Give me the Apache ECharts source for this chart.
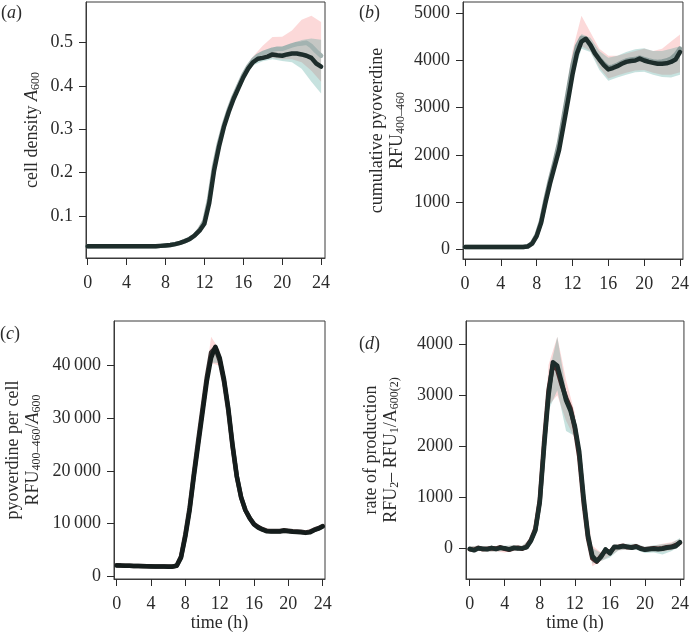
<!DOCTYPE html>
<html>
<head>
<meta charset="utf-8">
<script src="https://cdn.jsdelivr.net/npm/echarts@6/dist/echarts.min.js"></script>
<style>
  html, body { margin: 0; padding: 0; background: #fff; }
  #main { width: 692px; height: 634px; }
</style>
</head>
<body>
<div id="main"></div>
<script>
// time points of the mean lines (every 0.5 h) and of the ribbons (every 1 h)
const times = [0, 0.5, 1, 1.5, 2, 2.5, 3, 3.5, 4, 4.5, 5, 5.5, 6, 6.5, 7, 7.5, 8, 8.5, 9, 9.5, 10, 10.5, 11, 11.5, 12,
  12.5, 13, 13.5, 14, 14.5, 15, 15.5, 16, 16.5, 17, 17.5, 18, 18.5, 19, 19.5, 20, 20.5, 21, 21.5, 22, 22.5, 23, 23.5, 24]
const bandTimes = [0, 1, 2, 3, 4, 5, 6, 7, 8, 9, 10, 11, 12, 13, 14, 15, 16, 17, 18, 19, 20, 21, 22, 23, 24]

// (a) cell density
const aTeal = [0.03, 0.03, 0.03, 0.03, 0.03, 0.03, 0.03, 0.03, 0.03, 0.03, 0.03, 0.03, 0.03, 0.03, 0.03,
  0.031, 0.032, 0.033, 0.035, 0.038, 0.042, 0.047, 0.055, 0.066, 0.082, 0.13, 0.205, 0.26, 0.305, 0.34, 0.37, 0.395,
  0.42, 0.44, 0.455, 0.463, 0.465, 0.468, 0.473, 0.471, 0.47, 0.473, 0.475, 0.475, 0.473, 0.47, 0.465, 0.452, 0.445]
const aPink = [0.03, 0.03, 0.03, 0.03, 0.03, 0.03, 0.03, 0.03, 0.03, 0.03, 0.03, 0.03, 0.03, 0.03, 0.03,
  0.031, 0.032, 0.033, 0.035, 0.038, 0.042, 0.047, 0.055, 0.068, 0.088, 0.14, 0.215, 0.268, 0.31, 0.345, 0.375, 0.4,
  0.425, 0.445, 0.46, 0.47, 0.476, 0.48, 0.484, 0.486, 0.486, 0.49, 0.494, 0.497, 0.498, 0.5, 0.492, 0.48, 0.47]
const aTealLo = [0.028, 0.028, 0.028, 0.028, 0.028, 0.028, 0.028, 0.028, 0.028, 0.033, 0.04, 0.052, 0.078, 0.198,
  0.298, 0.364, 0.414, 0.448, 0.457, 0.462, 0.458, 0.455, 0.44, 0.41, 0.383]
const aTealHi = [0.032, 0.032, 0.032, 0.032, 0.032, 0.032, 0.032, 0.032, 0.032, 0.037, 0.044, 0.058, 0.086, 0.212,
  0.312, 0.376, 0.426, 0.462, 0.478, 0.487, 0.488, 0.497, 0.506, 0.51, 0.507]
const aPinkLo = [0.028, 0.028, 0.028, 0.028, 0.028, 0.028, 0.028, 0.028, 0.028, 0.033, 0.04, 0.053, 0.08, 0.205,
  0.302, 0.368, 0.418, 0.452, 0.462, 0.465, 0.462, 0.462, 0.455, 0.435, 0.41]
const aPinkHi = [0.032, 0.032, 0.032, 0.032, 0.032, 0.032, 0.032, 0.032, 0.032, 0.037, 0.045, 0.06, 0.096, 0.228,
  0.32, 0.382, 0.432, 0.468, 0.493, 0.513, 0.514, 0.528, 0.553, 0.562, 0.548]

// (b) cumulative pyoverdine
const bTeal = [50, 50, 50, 50, 50, 50, 50, 50, 50, 50, 50, 50, 50, 50,
  60, 120, 280, 560, 1000, 1400, 1750, 2100, 2620, 3150, 3700, 4150, 4400, 4460, 4330, 4150, 4020, 3900, 3810,
  3840, 3880, 3930, 3970, 3990, 4000, 4040, 4000, 3970, 3950, 3930, 3930, 3940, 3970, 4020, 4180]
const bPink = [50, 50, 50, 50, 50, 50, 50, 50, 50, 50, 50, 50, 50, 50,
  65, 130, 300, 600, 1060, 1480, 1850, 2250, 2800, 3350, 3900, 4300, 4480, 4450, 4320, 4160, 4040, 3930, 3850,
  3870, 3910, 3960, 4000, 4020, 4030, 4060, 4030, 4000, 3980, 3970, 3980, 4000, 4040, 4120, 4250]
const bTealLo = [30, 30, 30, 30, 30, 30, 30, 40, 250, 950, 1680, 2540, 3600, 4250, 4180, 3800, 3570, 3640, 3700,
  3750, 3760, 3700, 3650, 3640, 3700]
const bTealHi = [70, 70, 70, 70, 70, 70, 70, 80, 310, 1050, 1820, 2700, 3800, 4560, 4480, 4200, 4060, 4100, 4180,
  4240, 4260, 4200, 4200, 4250, 4300]
const bPinkLo = [30, 30, 30, 30, 30, 30, 30, 45, 270, 1000, 1750, 2650, 3750, 4300, 4200, 3850, 3620, 3680, 3740,
  3790, 3800, 3740, 3700, 3700, 3750]
const bPinkHi = [70, 70, 70, 70, 70, 70, 70, 90, 350, 1150, 1950, 2950, 4200, 4950, 4600, 4250, 4100, 4100, 4150,
  4200, 4250, 4200, 4250, 4400, 4550]

// (c) pyoverdine per cell
const cTeal = [2000, 1980, 1950, 1930, 1900, 1880, 1870, 1850, 1830, 1820, 1800, 1790, 1780, 1780,
  1950, 3500, 7500, 12500, 19000, 25000, 31000, 37000, 41500, 43600, 41500, 37500, 32000, 25000, 19000, 15000,
  12500, 11000, 9800, 9200, 8800, 8500, 8450, 8450, 8450, 8600, 8500, 8400, 8350, 8300, 8200, 8300, 8700, 9000, 9400]
const cPink = [2050, 2000, 1970, 1950, 1920, 1900, 1880, 1860, 1850, 1830, 1820, 1800, 1790, 1790,
  2000, 3700, 7900, 13000, 19600, 25800, 31800, 37800, 42500, 43400, 41000, 37000, 31500, 24600, 18800, 14900,
  12500, 11000, 9900, 9300, 8900, 8600, 8550, 8550, 8550, 8700, 8600, 8500, 8450, 8400, 8300, 8400, 8800, 9100, 9500]
const cTealLo = [1800, 1750, 1700, 1670, 1630, 1600, 1580, 1750, 7000, 18300, 30200, 40600, 40500, 31200, 18400,
  12000, 9400, 8400, 8100, 8100, 8150, 8000, 7850, 8300, 9000]
const cTealHi = [2200, 2150, 2100, 2070, 2030, 2000, 1980, 2150, 8000, 19700, 31800, 42500, 42500, 32800, 19600,
  13000, 10200, 9200, 8800, 8800, 8850, 8700, 8550, 9100, 9800]
const cPinkLo = [1800, 1750, 1700, 1670, 1630, 1600, 1580, 1750, 7200, 18600, 30400, 40500, 40000, 30800, 18200,
  12000, 9400, 8400, 8100, 8100, 8150, 8000, 7850, 8300, 9000]
const cPinkHi = [2250, 2200, 2150, 2100, 2080, 2050, 2030, 2200, 8500, 20500, 32800, 45500, 43000, 33000, 19800,
  13200, 10300, 9300, 8900, 8900, 8950, 8800, 8650, 9200, 9900]

// (d) rate of production
const dTeal = [-10, -40, 0, -10, -20, 10, -15, 10, 0, -20, 10, -5, 0, 20,
  150, 350, 900, 2000, 3000, 3650, 3580, 3250, 2900, 2700, 2400, 1900, 1000, 250, -150, -250, -170, -20, -100,
  30, 20, 40, 30, 10, 30, -10, -30, -20, -10, -20, -10, 10, 20, 40, 120]
const dPink = [-20, -30, 10, -20, -10, 0, -5, 20, -10, -30, 0, 10, -10, 30,
  170, 380, 950, 2100, 3100, 3600, 3500, 3200, 2950, 2750, 2350, 1800, 900, 200, -200, -260, -150, -40, -80,
  20, 30, 50, 20, 20, 40, 0, -20, -10, 0, -10, 0, 20, 30, 60, 110]
const dTealLo = [-60, -50, -70, -65, -50, -40, -50, 100, 800, 2700, 3100, 2300, 2200, 850, -300, -250, -180, -40,
  -30, -30, -90, -80, -120, -60, 40]
const dTealHi = [40, 50, 30, 35, 50, 60, 50, 200, 1000, 3400, 4150, 3100, 2600, 1150, 0, -90, -20, 80, 90, 90, 30,
  60, 80, 100, 200]
const dPinkLo = [-60, -50, -70, -65, -80, -40, -50, 100, 750, 2800, 3000, 2500, 2150, 700, -350, -250, -150, -40,
  -30, -20, -60, -60, -70, -40, 40]
const dPinkHi = [40, 50, 30, 35, 40, 60, 50, 200, 1100, 3600, 4150, 3300, 2650, 1200, 50, -80, -20, 70, 80, 70, 20,
  50, 90, 120, 180]

// tick labels
const timeTicks = [0, 4, 8, 12, 16, 20, 24]
const aTicks = [0.1, 0.2, 0.3, 0.4, 0.5]
const bTicks = [0, 1000, 2000, 3000, 4000, 5000]
const cTicks = [0, 10000, 20000, 30000, 40000]
const dTicks = [0, 1000, 2000, 3000, 4000]

const FONT = "'Liberation Serif', 'Times New Roman', Times, serif"
const INK = '#2b2b2b'
const PINK = 'rgba(245,130,130,0.3)'
const TEAL = 'rgba(70,160,150,0.3)'
const rich = {
  i: { fontStyle: 'italic', fontFamily: FONT, fontSize: 18, color: INK },
  sub: { fontFamily: FONT, fontSize: 12, color: INK, verticalAlign: 'bottom', lineHeight: 10 },
}

var chartDom = document.getElementById('main')
var myChart = echarts.init(chartDom)

function pairs(xs, ys) {
  return xs.map((x, i) => [x, ys[i]])
}

function band(idx, lo, hi, fill, z) {
  return {
    type: 'custom',
    xAxisIndex: idx,
    yAxisIndex: idx,
    z: z,
    silent: true,
    data: bandTimes.map((t, i) => [t, lo[i], hi[i]]),
    encode: { x: 0, y: [1, 2] },
    renderItem: function (params, api) {
      if (params.dataIndex !== 0) return null
      const pts = []
      for (let i = 0; i < bandTimes.length; i++) pts.push(api.coord([bandTimes[i], hi[i]]))
      for (let i = bandTimes.length - 1; i >= 0; i--) pts.push(api.coord([bandTimes[i], lo[i]]))
      return { type: 'polygon', shape: { points: pts }, style: { fill: fill } }
    },
  }
}

function line(idx, ys, color, z) {
  return {
    type: 'line',
    xAxisIndex: idx,
    yAxisIndex: idx,
    z: z,
    silent: true,
    showSymbol: false,
    data: pairs(times, ys),
    lineStyle: { color: color, width: 4.5, join: 'round', cap: 'round' },
  }
}

function xAxis(idx, min, max, withName) {
  return {
    type: 'value',
    gridIndex: idx,
    min: min,
    max: max,
    axisLine: { show: true, onZero: false, lineStyle: { color: '#3a3a3a', width: 1 } },
    splitLine: { show: false },
    axisTick: { show: true, inside: false, length: 7, lineStyle: { color: INK }, customValues: timeTicks },
    axisLabel: { fontFamily: FONT, fontSize: 18, color: INK, margin: 16, customValues: timeTicks },
    name: withName ? 'time (h)' : '',
    nameLocation: 'middle',
    nameGap: 35,
    nameTextStyle: { fontFamily: FONT, fontSize: 18, color: INK },
  }
}

function yAxis(idx, min, max, ticks, name, gap, fmt) {
  return {
    type: 'value',
    gridIndex: idx,
    min: min,
    max: max,
    axisLine: { show: true, onZero: false, lineStyle: { color: '#3a3a3a', width: 1 } },
    splitLine: { show: false },
    axisTick: { show: true, inside: false, length: 7, lineStyle: { color: INK }, customValues: ticks },
    axisLabel: { fontFamily: FONT, fontSize: 18, color: INK, margin: 13, customValues: ticks, formatter: fmt },
    name: name,
    nameLocation: 'middle',
    nameGap: gap,
    nameTextStyle: { fontFamily: FONT, fontSize: 18, color: INK, lineHeight: 20, rich: rich },
  }
}

function panelTitle(letter, left, top) {
  return {
    text: '({i|' + letter + '})',
    left: left,
    top: top,
    padding: 0,
    textStyle: { fontFamily: FONT, fontSize: 18, fontWeight: 'normal', color: INK, rich: rich },
  }
}

const gridStyle = { show: true, borderColor: '#3a3a3a', borderWidth: 1, backgroundColor: 'transparent' }

var option = {
  animation: false,
  backgroundColor: '#fff',
  title: [panelTitle('a', 1, 4), panelTitle('b', 359, 4), panelTitle('c', 0, 325), panelTitle('d', 359, 335)],
  grid: [
    Object.assign({ left: 86, top: 2, width: 239, height: 256 }, gridStyle),
    Object.assign({ left: 463, top: 2, width: 222, height: 257 }, gridStyle),
    Object.assign({ left: 114, top: 321, width: 211, height: 258 }, gridStyle),
    Object.assign({ left: 466, top: 321, width: 220, height: 258 }, gridStyle),
  ],
  xAxis: [
    xAxis(0, -0.17, 24.4, false),
    xAxis(1, -0.22, 24.33, false),
    xAxis(2, -0.31, 24.27, true),
    xAxis(3, -0.42, 24.45, true),
  ],
  yAxis: [
    yAxis(0, 0.003, 0.594, aTicks, 'cell density {i|A}{sub|600}', 44, (v) => String(v)),
    yAxis(1, -205, 5239, bTicks, 'cumulative pyoverdine\nRFU{sub|400–460}', 56, (v) => String(v)),
    yAxis(2, -571, 48502, cTicks, 'pyoverdine per cell\nRFU{sub|400–460}/{i|A}{sub|600}', 71, function (v) {
      return v >= 10000 ? Math.floor(v / 1000) + '\u2009000' : String(v)
    }),
    yAxis(3, -602, 4457, dTicks, 'rate of production\nRFU{sub|2}– RFU{sub|1}/A{sub|600(2)}', 65, (v) => String(v)),
  ],
  series: [
    band(0, aPinkLo, aPinkHi, PINK, 1),
    band(0, aTealLo, aTealHi, TEAL, 2),
    line(0, aPink, '#a3b3b1', 3),
    line(0, aTeal, '#1d2d2b', 4),

    band(1, bPinkLo, bPinkHi, PINK, 1),
    band(1, bTealLo, bTealHi, TEAL, 2),
    line(1, bPink, '#8e9e9c', 3),
    line(1, bTeal, '#1d2d2b', 4),

    band(2, cPinkLo, cPinkHi, PINK, 1),
    band(2, cTealLo, cTealHi, TEAL, 2),
    line(2, cPink, '#3a3030', 3),
    line(2, cTeal, '#141c1b', 4),

    band(3, dPinkLo, dPinkHi, PINK, 1),
    band(3, dTealLo, dTealHi, TEAL, 2),
    line(3, dPink, '#4a2a2a', 3),
    line(3, dTeal, '#1d2d2b', 4),
  ],
}

option && myChart.setOption(option)
</script>
</body>
</html>
